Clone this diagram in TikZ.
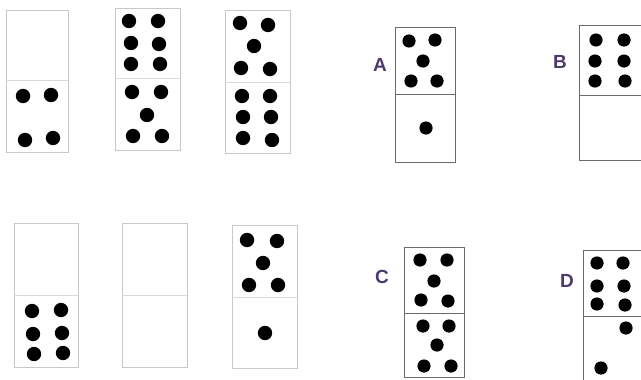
\documentclass[tikz,border=0pt]{standalone}
\usepackage{fontspec}
\setmainfont{Liberation Sans}
\usepackage{tikz}
\usetikzlibrary{positioning}
\usepackage{xcolor}
\definecolor{domgrey}{HTML}{C8C8C8}
\definecolor{optgrey}{HTML}{6A6A6A}
\definecolor{lblpurple}{HTML}{4B3A6B}

\begin{document}
\begin{tikzpicture}[x=1pt, y=-1pt,
    tile/.style={draw=domgrey, line width=0.8pt},
    half/.style={draw=domgrey!70, line width=0.6pt},
    opt/.style={draw=optgrey, line width=1pt},
    pip/.style={fill=black},
    lbl/.style={font=\fontsize{19}{19}\selectfont\bfseries, text=lblpurple, inner sep=0pt}]

  \useasboundingbox (0,0) rectangle (641,380);
  \clip (0,0) rectangle (641,380);

  % ---- top row of the puzzle ----
  \draw[tile] (6,10) rectangle (68,152);
  \draw[half] (6,80) -- (68,80);
  \fill[pip] (23,96) circle (7.2) (51,95) circle (7.2)
             (25,140) circle (7.2) (53,138) circle (7.2);

  \draw[tile] (115,8) rectangle (180,150);
  \draw[half] (115,78) -- (180,78);
  \fill[pip] (129,21) circle (7.2) (158,21) circle (7.2)
             (131,43) circle (7.2) (159,44) circle (7.2)
             (131,64) circle (7.2) (160,64) circle (7.2)
             (132,92) circle (7.2) (161,92) circle (7.2)
             (147,115) circle (7.2)
             (133,136) circle (7.2) (162,136) circle (7.2);

  \draw[tile] (225,10) rectangle (290,153);
  \draw[half] (225,82) -- (290,82);
  \fill[pip] (240,23) circle (7.2) (268,25) circle (7.2)
             (254,46) circle (7.2)
             (241,68) circle (7.2) (270,69) circle (7.2)
             (242,96) circle (7.2) (270,96) circle (7.2)
             (243,117) circle (7.2) (271,117) circle (7.2)
             (243,138) circle (7.2) (272,140) circle (7.2);

  % ---- bottom row of the puzzle ----
  \draw[tile] (14,223) rectangle (78,367);
  \draw[half] (14,295) -- (78,295);
  \fill[pip] (32,311) circle (7.2) (61,310) circle (7.2)
             (33,334) circle (7.2) (62,333) circle (7.2)
             (34,354) circle (7.2) (63,353) circle (7.2);

  \draw[tile] (122,223) rectangle (187,367);
  \draw[half] (122,295) -- (187,295);

  \draw[tile] (232,225) rectangle (297,368);
  \draw[half] (232,297) -- (297,297);
  \fill[pip] (247,240) circle (7.2) (277,241) circle (7.2)
             (263,263) circle (7.2)
             (249,285) circle (7.2) (278,285) circle (7.2)
             (265,333) circle (7.2);

  % ---- answer choices ----
  \node[lbl] (la) at (380,65) {A};
  \draw[opt] (395,27) rectangle (455,162);
  \draw[opt] (395,94) -- (455,94);
  \fill[pip] (409,41) circle (6.6) (435,40) circle (6.6)
             (423,61) circle (6.6)
             (411,81) circle (6.6) (437,81) circle (6.6)
             (426,128) circle (6.6);

  \node[lbl] (lb) at (560,62) {B};
  \draw[opt] (579,25) rectangle (646,160);
  \draw[opt] (579,95) -- (646,95);
  \fill[pip] (596,40) circle (6.6) (624,40) circle (6.6)
             (595,61) circle (6.6) (624,61) circle (6.6)
             (595,81) circle (6.6) (625,81) circle (6.6);

  \node[lbl] (lc) at (382,277) {C};
  \draw[opt] (404,247) rectangle (464,377);
  \draw[opt] (404,313) -- (464,313);
  \fill[pip] (420,260) circle (6.6) (447,260) circle (6.6)
             (434,281) circle (6.6)
             (421,300) circle (6.6) (448,301) circle (6.6)
             (423,326) circle (6.6) (449,326) circle (6.6)
             (437,345) circle (6.6)
             (424,366) circle (6.6) (451,366) circle (6.6);

  \node[lbl] (ld) at (567,281) {D};
  \draw[opt] (583,250) rectangle (646,382);
  \draw[opt] (583,316) -- (646,316);
  \fill[pip] (597,263) circle (6.6) (623,263) circle (6.6)
             (597,286) circle (6.6) (624,286) circle (6.6)
             (597,304) circle (6.6) (625,305) circle (6.6)
             (626,328) circle (6.6)
             (601,368) circle (6.6);
\end{tikzpicture}
\end{document}
